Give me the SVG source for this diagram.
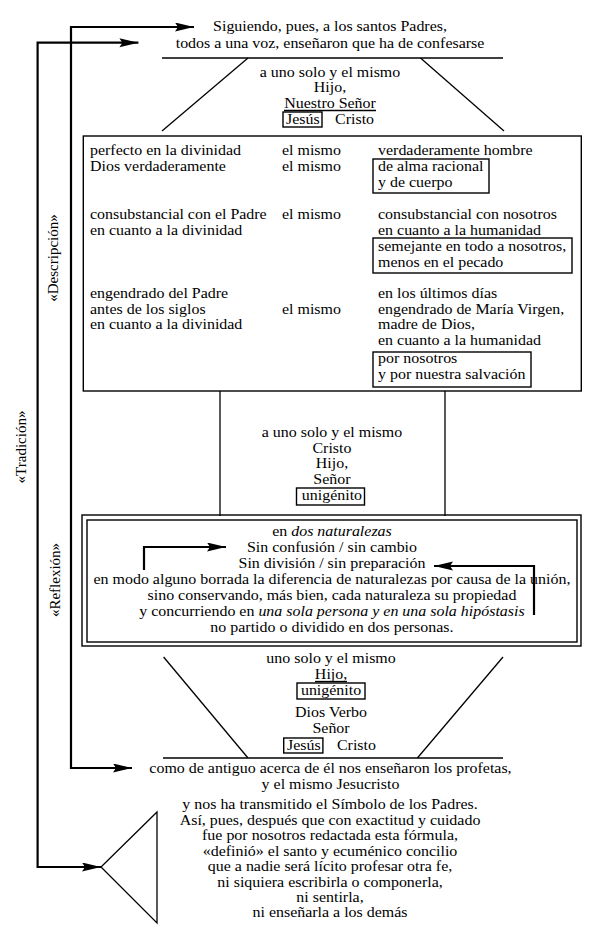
<svg xmlns="http://www.w3.org/2000/svg" width="609" height="943" viewBox="0 0 609 943">
<defs>
<style>
.t{font-family:"Liberation Serif","Times New Roman",serif;font-size:14px;fill:#000}
.c{text-anchor:middle}
.i{font-style:italic}
.ln{stroke:#000;fill:none;stroke-width:1.3}
.bx{stroke:#000;fill:none;stroke-width:1.4}
.br{stroke:#000;fill:none;stroke-width:2.2}
.lab{font-family:"Liberation Serif","Times New Roman",serif;font-size:15px;fill:#000;text-anchor:middle}
</style>
<marker id="ah" markerUnits="userSpaceOnUse" markerWidth="20" markerHeight="10" refX="19" refY="4.5" orient="auto-start-reverse">
<path d="M0,0 L19,4.5 L0,9 L3,4.5 z" fill="#000"/>
</marker>
</defs>
<rect width="609" height="943" fill="#fff"/>

<g id="connectors">
<polyline class="br" points="132,768 71,768 71,27 194,27" marker-start="url(#ah)" marker-end="url(#ah)"/>
<polyline class="br" points="101,867 37.6,867 37.6,42.7 138.4,42.7" marker-start="url(#ah)" marker-end="url(#ah)"/>
<polyline class="br" points="144,570 144,547 226,547" marker-end="url(#ah)"/>
<polyline class="br" points="534,615 534,566 434,566" marker-end="url(#ah)"/>
</g>

<g id="labels">
<text class="lab" transform="translate(58,258) rotate(-90)">«Descripción»</text>
<text class="lab" transform="translate(60,580) rotate(-90)">«Reflexión»</text>
<text class="lab" transform="translate(26,447) rotate(-90)">«Tradición»</text>
</g>

<g id="header">
<line class="ln" x1="162" y1="58" x2="503" y2="58"/>
<line class="ln" x1="248" y1="58" x2="162" y2="131"/>
<line class="ln" x1="420.5" y1="58" x2="504" y2="131"/>
<line class="ln" x1="284" y1="110.5" x2="376" y2="110.5" stroke-width="1"/>
<rect class="bx" x="283" y="112" width="39" height="15" stroke-width="1.2"/>
</g>

<g id="box-descripcion">
<rect class="bx" x="83.3" y="136" width="498" height="255"/>
<rect class="bx" x="373" y="159" width="116" height="34"/>
<rect class="bx" x="373" y="238" width="199" height="35"/>
<rect class="bx" x="373" y="352" width="158" height="35"/>
</g>

<g id="middle">
<line class="ln" x1="220" y1="391" x2="220" y2="516"/>
<line class="ln" x1="445" y1="391" x2="445" y2="516"/>
<rect class="bx" x="296.5" y="488" width="68" height="17" stroke-width="1.2"/>
</g>

<g id="box-reflexion">
<rect class="bx" x="82" y="515" width="499" height="131"/>
<rect class="bx" x="87" y="520" width="490" height="122"/>
</g>

<g id="footer">
<line class="ln" x1="163.6" y1="657" x2="248" y2="758"/>
<line class="ln" x1="503" y1="657" x2="417.4" y2="758"/>
<line class="ln" x1="163" y1="758" x2="503" y2="758"/>
<line class="ln" x1="315" y1="681.5" x2="347" y2="681.5" stroke-width="1"/>
<rect class="bx" x="297" y="683" width="68" height="16" stroke-width="1.2"/>
<rect class="bx" x="283.7" y="738" width="39.2" height="15" stroke-width="1.2"/>
</g>

<g id="definicion">
<polygon class="ln" points="157,812 101,867 157,923"/>
</g>

<g id="texts" class="t" transform="scale(1.14,1)">
<text class="c" x="289.5" y="31">Siguiendo, pues, a los santos Padres,</text>
<text class="c" x="289.5" y="48">todos a una voz, enseñaron que ha de confesarse</text>
<text class="c" x="289.5" y="77">a uno solo y el mismo</text>
<text class="c" x="289.5" y="92.5">Hijo,</text>
<text class="c" x="289.5" y="108">Nuestro Señor</text>
<text x="250.9" y="124">Jesús</text>
<text x="293.9" y="124">Cristo</text>

<text x="78.95" y="155">perfecto en la divinidad</text>
<text x="247.4" y="155">el mismo</text>
<text x="331.6" y="155">verdaderamente hombre</text>
<text x="78.95" y="171">Dios verdaderamente</text>
<text x="247.4" y="171">el mismo</text>
<text x="331.6" y="171">de alma racional</text>
<text x="331.6" y="187">y de cuerpo</text>

<text x="78.95" y="219">consubstancial con el Padre</text>
<text x="247.4" y="219">el mismo</text>
<text x="331.6" y="219">consubstancial con nosotros</text>
<text x="78.95" y="235">en cuanto a la divinidad</text>
<text x="331.6" y="235">en cuanto a la humanidad</text>
<text x="331.6" y="251">semejante en todo a nosotros,</text>
<text x="331.6" y="267">menos en el pecado</text>

<text x="78.95" y="298">engendrado del Padre</text>
<text x="331.6" y="298">en los últimos días</text>
<text x="78.95" y="314">antes de los siglos</text>
<text x="247.4" y="314">el mismo</text>
<text x="331.6" y="314">engendrado de María Virgen,</text>
<text x="78.95" y="329.5">en cuanto a la divinidad</text>
<text x="331.6" y="329.5">madre de Dios,</text>
<text x="331.6" y="345">en cuanto a la humanidad</text>
<text x="331.6" y="363">por nosotros</text>
<text x="331.6" y="379">y por nuestra salvación</text>

<text class="c" x="291.2" y="437">a uno solo y el mismo</text>
<text class="c" x="291.2" y="452.7">Cristo</text>
<text class="c" x="291.2" y="468.4">Hijo,</text>
<text class="c" x="291.2" y="484">Señor</text>
<text class="c" x="291.2" y="500.5">unigénito</text>

<text class="c" x="291.2" y="536.5">en <tspan class="i">dos naturalezas</tspan></text>
<text class="c" x="291.2" y="552.5">Sin confusión / sin cambio</text>
<text class="c" x="291.2" y="568.5">Sin división / sin preparación</text>
<text class="c" x="291.2" y="584.5">en modo alguno borrada la diferencia de naturalezas por causa de la unión,</text>
<text class="c" x="291.2" y="600.5">sino conservando, más bien, cada naturaleza su propiedad</text>
<text class="c" x="291.2" y="616.5">y concurriendo en <tspan class="i">una sola persona y en una sola hipóstasis</tspan></text>
<text class="c" x="291.2" y="632.5">no partido o dividido en dos personas.</text>

<text class="c" x="290.4" y="663">uno solo y el mismo</text>
<text class="c" x="290.4" y="679.5">Hijo,</text>
<text class="c" x="290.4" y="695.5">unigénito</text>
<text class="c" x="290.4" y="717">Dios Verbo</text>
<text class="c" x="290.4" y="733">Señor</text>
<text x="251.8" y="750">Jesús</text>
<text x="295.6" y="750">Cristo</text>

<text class="c" x="289.9" y="773">como de antiguo acerca de él nos enseñaron los profetas,</text>
<text class="c" x="289.9" y="789">y el mismo Jesucristo</text>
<text class="c" x="289.5" y="809">y nos ha transmitido el Símbolo de los Padres.</text>
<text class="c" x="289.5" y="825">Así, pues, después que con exactitud y cuidado</text>
<text class="c" x="289.5" y="840">fue por nosotros redactada esta fórmula,</text>
<text class="c" x="289.5" y="856">«definió» el santo y ecuménico concilio</text>
<text class="c" x="289.5" y="871">que a nadie será lícito profesar otra fe,</text>
<text class="c" x="289.5" y="887">ni siquiera escribirla o componerla,</text>
<text class="c" x="289.5" y="902">ni sentirla,</text>
<text class="c" x="289.5" y="917">ni enseñarla a los demás</text>
</g>
</svg>
